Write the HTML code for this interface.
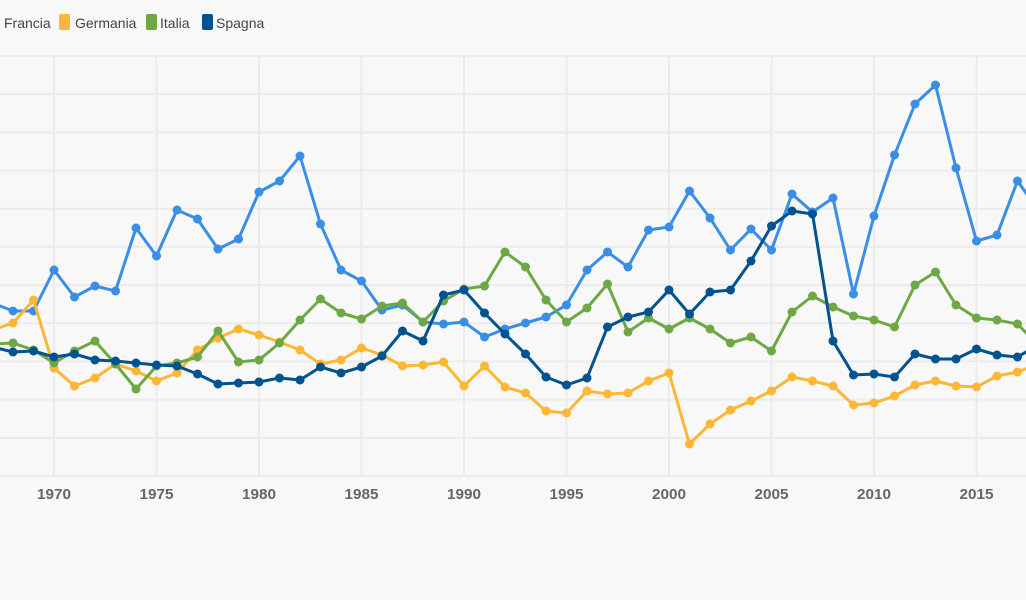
<!DOCTYPE html>
<html><head><meta charset="utf-8"><style>
html,body{margin:0;padding:0;background:#f8f8f8;width:1026px;height:600px;overflow:hidden;font-family:"Liberation Sans",sans-serif}
</style></head><body>
<svg id="c" width="1026" height="600" xmlns="http://www.w3.org/2000/svg"></svg>
<script>
const s=document.getElementById('c');let h='';
for(let i=0;i<12;i++){const y=56+i*420/11;h+=`<line x1="0" x2="1026" y1="${y}" y2="${y}" stroke="#ebebeb" stroke-width="2"/>`;}
for(let k=0;k<10;k++){const x=54+102.5*k;h+=`<line x1="${x}" x2="${x}" y1="56" y2="476" stroke="#ebebeb" stroke-width="2"/>`;
h+=`<text x="${x}" y="499" text-anchor="middle" font-size="15" font-weight="bold" fill="#666" textLength="34" lengthAdjust="spacingAndGlyphs">${1970+5*k}</text>`;}
const X=y=>54+(y-1970)*20.5;
const D={
"#3a8ee6":[303,311,311,270,297,286,291,228,256,210,219,249,239,192,181,156,224,270,281,310,305,322,324,322,337,329,323,317,305,270,252,267,230,227,191,218,250,229,250,194,212,198,294,216,155,104,85,168,241,235,181,210],
"#fbb735":[330,323,300,368,386,378,364,371,381,373,350,338,329,335,342,350,364,360,348,355,366,365,362,386,366,387,393,411,413,391,394,393,381,373,444,424,410,401,391,377,381,386,405,403,396,385,381,386,387,376,372,364],
"#6ea845":[344,343,350,363,351,341,364,389,366,363,357,331,362,360,343,320,299,313,319,306,303,322,301,289,286,252,267,300,322,308,284,332,318,329,318,329,343,337,351,312,296,307,316,320,327,285,272,305,318,320,324,345],
"#00538f":[347,352,351,357,354,360,361,363,365,366,374,384,383,382,378,380,367,373,367,356,331,341,295,290,313,334,354,377,385,378,327,317,312,290,314,292,290,261,226,211,214,341,375,374,377,354,359,359,349,355,357,345]};
for(const c in D){const p=D[c].map((v,i)=>[X(1967+i),v]);
h+=`<polyline fill="none" stroke="${c}" stroke-width="3" stroke-linejoin="round" points="${p.map(a=>a.join(',')).join(' ')}"/>`;
p.forEach(a=>h+=`<circle cx="${a[0]}" cy="${a[1]}" r="4.5" fill="${c}"/>`);}
const L=[["Francia","#3a8ee6",-52,4],["Germania","#fbb735",59,75],["Italia","#6ea845",146,160],["Spagna","#00538f",202,216]];
L.forEach(l=>{h+=`<rect x="${l[2]}" y="14" width="11" height="16" rx="2" fill="${l[1]}"/><text x="${l[3]}" y="28" font-size="14" fill="#444">${l[0]}</text>`;});
s.innerHTML=h;
</script>
</body></html>
